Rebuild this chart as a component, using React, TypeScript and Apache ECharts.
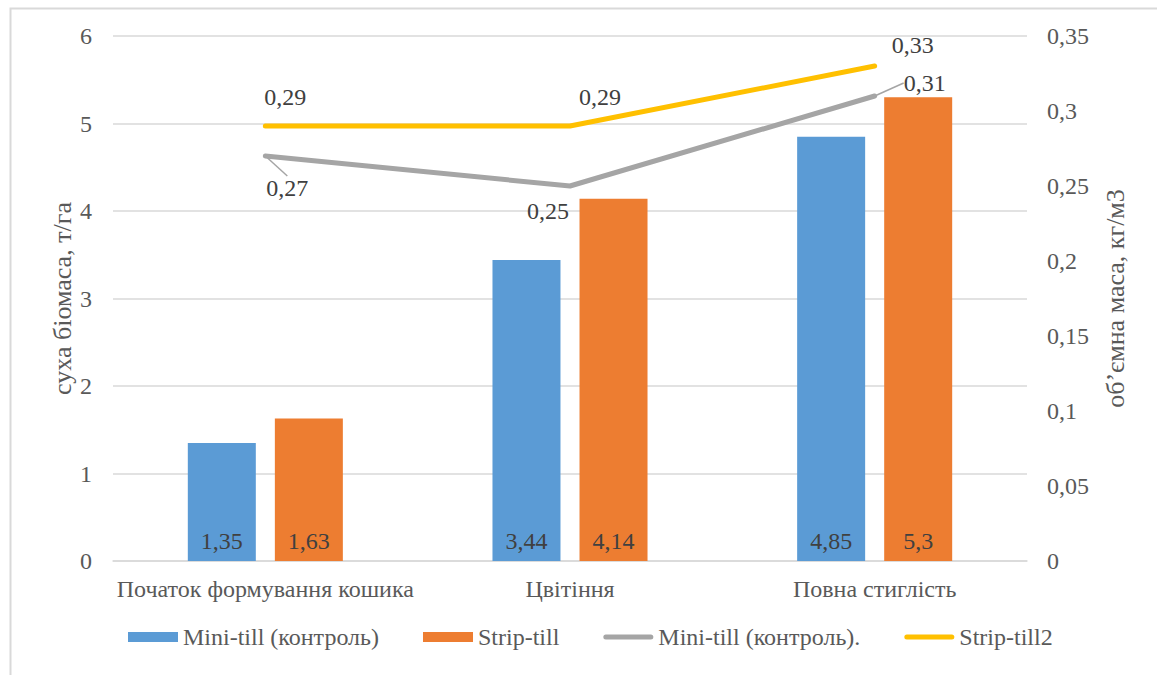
import React, { useEffect, useRef } from "react";
import * as echarts from "echarts";

// Growth stages
const categories = ["Початок формування кошика", "Цвітіння", "Повна стиглість"];

// Dry biomass, t/ha (left axis)
const miniTillBiomass = [1.35, 3.44, 4.85];
const stripTillBiomass = [1.63, 4.14, 5.3];

// Bulk density, kg/m3 (right axis)
const miniTillDensity = [0.27, 0.25, 0.31];
const stripTillDensity = [0.29, 0.29, 0.33];

const seriesNames = [
  "Mini-till (контроль)",
  "Strip-till",
  "Mini-till (контроль).",
  "Strip-till2",
];

const FONT = "Liberation Serif";
const FS = 24;
const TEXT = "#595959";
const LABEL = "#404040";
const GRID = "#d9d9d9";

const LINE_ICON =
  "path://M2.5,0 L47.5,0 A2.5,2.5 0 0 1 47.5,5 L2.5,5 A2.5,2.5 0 0 1 2.5,0 Z";

const fmt = (v: number) => String(v).replace(".", ",");

// label shifts for the line points (text centre relative to point)
const yellowOffsets = [
  [20, -29],
  [30, -29],
  [38, -21],
];
const grayOffsets = [
  [22, 32],
  [-22, 25],
  [50, -13],
];
// which gray labels carry a leader line
const grayLeader = [true, false, true];

export default function App() {
  const ref = useRef<HTMLDivElement>(null);

  useEffect(() => {
    if (!ref.current) return;
    const chart = echarts.init(ref.current, null, { renderer: "svg" });

    const labelStyle = {
      show: true,
      position: "inside",
      formatter: (p: any) => fmt(p.value),
      fontFamily: FONT,
      fontSize: FS,
      color: LABEL,
    };

    const barLabel = {
      show: true,
      position: "insideBottom",
      distance: 8,
      formatter: (p: any) => fmt(p.value),
      fontFamily: FONT,
      fontSize: FS,
      color: LABEL,
    };

    chart.setOption({
      animation: false,
      textStyle: { fontFamily: FONT },
      graphic: [
        {
          type: "rect",
          left: 8,
          top: 6,
          shape: { width: 1170, height: 690 },
          style: { fill: "none", stroke: GRID, lineWidth: 2 },
          silent: true,
        },
      ],
      grid: { left: 113, right: 130, top: 36, bottom: 114, containLabel: false },
      legend: {
        top: 620,
        left: 123,
        itemWidth: 50,
        itemHeight: 10,
        itemGap: 44,
        textStyle: { fontFamily: FONT, fontSize: FS, color: TEXT },
        data: [
          { name: seriesNames[0], icon: "rect" },
          { name: seriesNames[1], icon: "rect" },
          { name: seriesNames[2], icon: LINE_ICON, itemStyle: { color: "#a5a5a5" } },
          { name: seriesNames[3], icon: LINE_ICON, itemStyle: { color: "#ffc000" } },
        ],
      },
      xAxis: {
        type: "category",
        data: categories,
        axisLine: { lineStyle: { color: GRID, width: 1.5 } },
        axisTick: { show: false },
        axisLabel: { fontFamily: FONT, fontSize: FS, color: TEXT, margin: 16, interval: 0 },
      },
      yAxis: [
        {
          type: "value",
          min: 0,
          max: 6,
          interval: 1,
          name: "суха біомаса, т/га",
          nameLocation: "middle",
          nameGap: 38,
          nameMoveOverlap: false,
          nameTextStyle: { fontFamily: FONT, fontSize: 26, color: TEXT },
          axisLabel: { fontFamily: FONT, fontSize: FS, color: TEXT, margin: 21 },
          splitLine: { lineStyle: { color: GRID, width: 1.5 } },
          axisLine: { show: false },
          axisTick: { show: false },
        },
        {
          type: "value",
          min: 0,
          max: 0.35,
          interval: 0.05,
          name: "об’ємна маса, кг/м3",
          nameLocation: "middle",
          nameGap: 75,
          nameMoveOverlap: false,
          nameRotate: 90,
          nameTextStyle: { fontFamily: FONT, fontSize: 26, color: TEXT },
          axisLabel: {
            fontFamily: FONT,
            fontSize: FS,
            color: TEXT,
            margin: 20,
            formatter: (v: number) => fmt(Math.round(v * 100) / 100),
          },
          splitLine: { show: false },
          axisLine: { show: false },
          axisTick: { show: false },
        },
      ],
      series: [
        {
          name: seriesNames[0],
          type: "bar",
          data: miniTillBiomass,
          barWidth: 68,
          barGap: "28%",
          itemStyle: { color: "#5b9bd5" },
          label: barLabel,
        },
        {
          name: seriesNames[1],
          type: "bar",
          data: stripTillBiomass,
          barWidth: 68,
          itemStyle: { color: "#ed7d31" },
          label: barLabel,
        },
        {
          name: seriesNames[2],
          type: "line",
          yAxisIndex: 1,
          data: miniTillDensity.map((v, i) => ({
            value: v,
            labelLine: { show: grayLeader[i] },
          })),
          label: labelStyle,
          labelLine: { show: false, lineStyle: { color: "#a5a5a5", width: 1.5 } },
          labelLayout: (p: any) => ({
            dx: grayOffsets[p.dataIndex][0],
            dy: grayOffsets[p.dataIndex][1],
          }),
          showSymbol: true,
          symbol: "circle",
          symbolSize: 0.1,
          lineStyle: { color: "#a5a5a5", width: 5, cap: "round", join: "round" },
          itemStyle: { color: "#a5a5a5" },
        },
        {
          name: seriesNames[3],
          type: "line",
          yAxisIndex: 1,
          data: stripTillDensity,
          label: labelStyle,
          labelLayout: (p: any) => ({
            dx: yellowOffsets[p.dataIndex][0],
            dy: yellowOffsets[p.dataIndex][1],
          }),
          showSymbol: true,
          symbol: "circle",
          symbolSize: 0.1,
          lineStyle: { color: "#ffc000", width: 5, cap: "round", join: "round" },
          itemStyle: { color: "#ffc000" },
        },
      ],
    });

    return () => chart.dispose();
  }, []);

  return (
    <div
      ref={ref}
      style={{ position: "fixed", left: 0, top: 0, width: 1157, height: 675, background: "#fff" }}
    />
  );
}
